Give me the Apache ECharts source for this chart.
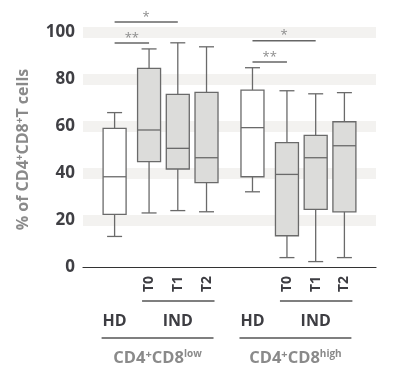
<!DOCTYPE html>
<html><head><meta charset="utf-8">
<script src="https://cdn.jsdelivr.net/npm/echarts@6/dist/echarts.min.js"></script>
<style>html,body{margin:0;padding:0;background:#fff}#c{width:403px;height:372px}</style>
</head><body><div id="c"></div>
<script>
// ---- data ----
const boxNames   = ['HD', 'T0', 'T1', 'T2', 'HD', 'T0', 'T1', 'T2'];
const boxGroups  = ['low', 'low', 'low', 'low', 'high', 'high', 'high', 'high'];
const boxSlots   = [5, 11, 16, 21, 29, 35, 40, 45];   // ordinal slot on category axis
const slotCount  = 51;
const whiskerMin = [13, 23, 24, 23.5, 32, 4, 2.3, 4];
const q1         = [22.4, 44.8, 41.7, 35.9, 38.4, 13.3, 24.5, 23.5];
const median     = [38.4, 58.3, 50.5, 46.5, 59.3, 39.4, 46.5, 51.6];
const q3         = [59, 84.5, 73.5, 74.3, 75.3, 52.9, 56, 61.8];
const whiskerMax = [65.7, 92.8, 95.4, 93.7, 84.8, 75, 73.7, 74.2];
const yTicks     = [0, 20, 40, 60, 80, 100];

const sigFrom  = ['HD|low', 'HD|low', 'HD|high', 'HD|high'];
const sigTo    = ['T1|low', 'T0|low', 'T1|high', 'T0|high'];
const sigLevel = [104.3, 95.3, 96.3, 87.2];
const sigLabel = ['*', '**', '*', '**'];

const groupKeys   = ['low', 'high'];
const groupTitles = ['CD4{s|+}CD8{t|low}', 'CD4{s|+}CD8{t|high}'];
const yName = '% of CD4{s|+}CD8{s|+}T cells';

// ---- build ----
const FONT = '"Open Sans", Lato, sans-serif';
const catData = [];
for (let i = 0; i < slotCount; i++) catData.push('_' + i);
boxNames.forEach((n, k) => { catData[boxSlots[k]] = n + '|' + boxGroups[k]; });
const isNamed = (v) => !String(v).startsWith('_');

const boxData = boxNames.map((n, k) => [boxSlots[k], whiskerMin[k], q1[k], median[k], q3[k], whiskerMax[k], n === 'HD' ? 1 : 0]);

const chart = echarts.init(document.getElementById('c'));

function renderBox(params, api) {
  const x = api.value(0);
  const pMin = api.coord([x, api.value(1)]);
  const pQ1 = api.coord([x, api.value(2)]);
  const pMed = api.coord([x, api.value(3)]);
  const pQ3 = api.coord([x, api.value(4)]);
  const pMax = api.coord([x, api.value(5)]);
  const hd = api.value(6) === 1;
  const bw = 23, cw = 15;
  const cx = pMed[0];
  const ls = { stroke: '#6a6a6a', lineWidth: 1.3 };
  return {
    type: 'group',
    children: [
      { type: 'line', shape: { x1: cx, y1: pMax[1], x2: cx, y2: pQ3[1] }, style: ls },
      { type: 'line', shape: { x1: cx, y1: pQ1[1], x2: cx, y2: pMin[1] }, style: ls },
      { type: 'line', shape: { x1: cx - cw / 2, y1: pMax[1], x2: cx + cw / 2, y2: pMax[1] }, style: ls },
      { type: 'line', shape: { x1: cx - cw / 2, y1: pMin[1], x2: cx + cw / 2, y2: pMin[1] }, style: ls },
      { type: 'rect', shape: { x: cx - bw / 2, y: pQ3[1], width: bw, height: pQ1[1] - pQ3[1] },
        style: { fill: hd ? '#ffffff' : '#dcdcda', stroke: '#6a6a6a', lineWidth: 1.3 } },
      { type: 'line', shape: { x1: cx - bw / 2, y1: pMed[1], x2: cx + bw / 2, y2: pMed[1] }, style: ls }
    ]
  };
}

chart.setOption({
  animation: false,
  backgroundColor: '#ffffff',
  textStyle: { fontFamily: FONT },
  grid: { left: 83, right: 27, top: 32, bottom: 105 },
  xAxis: {
    type: 'category',
    data: catData,
    boundaryGap: true,
    axisLine: { lineStyle: { color: '#333', width: 1.2 } },
    axisTick: { alignWithLabel: true, interval: (i, v) => isNamed(v), length: 6, lineStyle: { color: '#333', width: 1.2 } },
    axisLabel: {
      interval: (i, v) => isNamed(v),
      formatter: (v) => { const n = v.split('|')[0]; return n === 'HD' ? '' : n; },
      rotate: 90, margin: 9, fontSize: 14, fontWeight: 'bold', color: '#3d3d42', fontFamily: FONT
    },
    splitLine: { show: false }
  },
  yAxis: {
    type: 'value',
    min: yTicks[0], max: yTicks[yTicks.length - 1], interval: yTicks[1] - yTicks[0],
    axisLine: { show: false },
    axisTick: { show: false },
    axisLabel: { fontSize: 17, fontWeight: 'bold', color: '#3f3f44', margin: 8, fontFamily: FONT },
    splitLine: { show: true, showMinLine: false, lineStyle: { color: '#f3f2f0', width: 11 } },
    name: yName,
    nameLocation: 'middle',
    nameRotate: 90,
    nameGap: 52,
    nameTextStyle: {
      fontSize: 16, fontWeight: 'bold', color: '#8a8a8a', fontFamily: FONT,
      rich: { s: { fontSize: 10, fontWeight: 'bold', color: '#8a8a8a', verticalAlign: 'top', fontFamily: FONT } }
    }
  },
  series: [{
    type: 'custom',
    renderItem: renderBox,
    encode: { x: 0, y: [1, 2, 3, 4, 5] },
    data: boxData,
    z: 5
  }]
});

// ---- annotations positioned through the axes ----
const px = (name) => chart.convertToPixel({ xAxisIndex: 0 }, name);
const py = (v) => chart.convertToPixel({ yAxisIndex: 0 }, v);
const y0 = py(0);
const g = [];
sigLabel.forEach((lab, i) => {
  const x1 = px(sigFrom[i]), x2 = px(sigTo[i]), y = py(sigLevel[i]);
  g.push({ type: 'line', shape: { x1, y1: y, x2, y2: y }, style: { stroke: '#666', lineWidth: 1.5 } });
  g.push({ type: 'text', x: (x1 + x2) / 2, y: y - 5,
    style: { text: lab, fill: '#8d8d8d', font: '13px ' + FONT, align: 'center', verticalAlign: 'middle' } });
});
const richSub = {
  s: { fontSize: 11, fontWeight: 'bold', fill: '#8a8a8a', verticalAlign: 'top', fontFamily: FONT },
  t: { fontSize: 10, fontWeight: 'bold', fill: '#8a8a8a', verticalAlign: 'top', fontFamily: FONT }
};
groupKeys.forEach((k, gi) => {
  const xHD = px('HD|' + k), xT0 = px('T0|' + k), xT2 = px('T2|' + k);
  g.push({ type: 'line', shape: { x1: xT0 - 7, y1: y0 + 34, x2: xT2 + 8, y2: y0 + 34 }, style: { stroke: '#555', lineWidth: 1.3 } });
  g.push({ type: 'text', x: xHD, y: y0 + 54,
    style: { text: 'HD', fill: '#3d3d42', font: 'bold 16px ' + FONT, align: 'center', verticalAlign: 'middle' } });
  g.push({ type: 'text', x: (xT0 + xT2) / 2, y: y0 + 54,
    style: { text: 'IND', fill: '#3d3d42', font: 'bold 16px ' + FONT, align: 'center', verticalAlign: 'middle' } });
  g.push({ type: 'line', shape: { x1: xHD - 13, y1: y0 + 71, x2: xT2 + 7, y2: y0 + 71 }, style: { stroke: '#555', lineWidth: 1.3 } });
  g.push({ type: 'text', x: (xHD - 13 + xT2 + 7) / 2, y: y0 + 91,
    style: { text: groupTitles[gi], fill: '#8a8a8a', fontSize: 16.5, fontWeight: 'bold', fontFamily: FONT,
      align: 'center', verticalAlign: 'middle', rich: richSub } });
});
chart.setOption({ graphic: { elements: g } });
</script></body></html>
